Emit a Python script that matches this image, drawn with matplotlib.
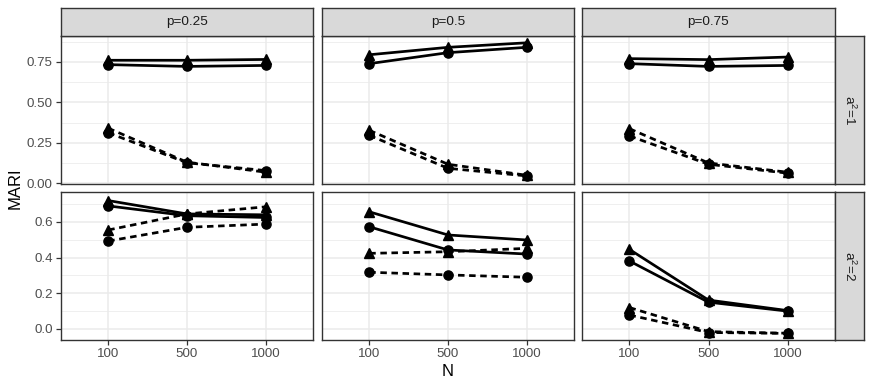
import matplotlib
matplotlib.use("Agg")
import matplotlib.pyplot as plt
import numpy as np

plt.rcParams['font.family'] = ['Liberation Sans', 'DejaVu Sans']

N_labels = ["100", "500", "1000"]
p_labels = ["p=0.25", "p=0.5", "p=0.75"]
a_labels = [r"$\mathregular{a^2}$=1", r"$\mathregular{a^2}$=2"]

# values per p-panel (rows: p=0.25, p=0.5, p=0.75; cols: N=100,500,1000)
solid_tri_a1 = [[0.760, 0.760, 0.765], [0.794, 0.840, 0.868], [0.770, 0.764, 0.780]]
solid_circ_a1 = [[0.733, 0.722, 0.728], [0.739, 0.807, 0.840], [0.739, 0.722, 0.728]]
dash_tri_a1 = [[0.340, 0.130, 0.068], [0.327, 0.117, 0.049], [0.337, 0.125, 0.068]]
dash_circ_a1 = [[0.312, 0.126, 0.078], [0.296, 0.092, 0.045], [0.292, 0.117, 0.062]]

solid_tri_a2 = [[0.720, 0.645, 0.640], [0.657, 0.527, 0.499], [0.446, 0.162, 0.103]]
solid_circ_a2 = [[0.690, 0.635, 0.625], [0.573, 0.443, 0.420], [0.381, 0.150, 0.100]]
dash_tri_a2 = [[0.555, 0.645, 0.685], [0.424, 0.433, 0.452], [0.120, -0.015, -0.024]]
dash_circ_a2 = [[0.493, 0.570, 0.588], [0.318, 0.303, 0.290], [0.078, -0.020, -0.025]]

rows = [
    dict(st=solid_tri_a1, sc=solid_circ_a1, dt=dash_tri_a1, dc=dash_circ_a1,
         ylim=(-0.005, 0.91), major=[0, 0.25, 0.5, 0.75],
         labels=["0.00", "0.25", "0.50", "0.75"], minor=[0.125, 0.375, 0.625, 0.875]),
    dict(st=solid_tri_a2, sc=solid_circ_a2, dt=dash_tri_a2, dc=dash_circ_a2,
         ylim=(-0.062, 0.768), major=[0, 0.2, 0.4, 0.6],
         labels=["0.0", "0.2", "0.4", "0.6"], minor=[0.1, 0.3, 0.5, 0.7]),
]

W, H = 872, 388
fig = plt.figure(figsize=(W / 100, H / 100), dpi=100)

col_x = [(61, 313), (322, 574), (582, 835)]
row_y = [(36, 184), (192, 340)]
strip_top = (8, 36)
strip_right = (835, 864)

def fax(x0, x1, y0, y1):
    return fig.add_axes([x0 / W, 1 - y1 / H, (x1 - x0) / W, (y1 - y0) / H])

edge = '#333333'
grid_c = '#EBEBEB'
lw = 1.95
dash = (2.4, 1.7)

for ri, r in enumerate(rows):
    for ci in range(3):
        x0, x1 = col_x[ci]
        y0, y1 = row_y[ri]
        ax = fax(x0, x1, y0, y1)
        ax.set_facecolor('white')
        xs = np.arange(1, 4)
        ax.set_xlim(0.4, 3.6)
        ax.set_ylim(*r['ylim'])
        for v in r['minor']:
            ax.axhline(v, color=grid_c, lw=0.55, zorder=0)
        for v in r['major']:
            ax.axhline(v, color=grid_c, lw=1.1, zorder=0)
        for xv in xs:
            ax.axvline(xv, color=grid_c, lw=1.1, zorder=0)
        ax.plot(xs, r['st'][ci], color='black', lw=lw, zorder=2, solid_capstyle='butt')
        ax.plot(xs, r['sc'][ci], color='black', lw=lw, zorder=2, solid_capstyle='butt')
        ax.plot(xs, r['dt'][ci], color='black', lw=lw, ls=(0, dash), zorder=2, dash_capstyle='butt')
        ax.plot(xs, r['dc'][ci], color='black', lw=lw, ls=(0, dash), zorder=2, dash_capstyle='butt')
        ax.plot(xs, r['st'][ci], ls='none', marker='^', ms=7.5, color='black', zorder=3)
        ax.plot(xs, r['sc'][ci], ls='none', marker='o', ms=6.6, color='black', zorder=3)
        ax.plot(xs, r['dt'][ci], ls='none', marker='^', ms=7.5, color='black', zorder=3)
        ax.plot(xs, r['dc'][ci], ls='none', marker='o', ms=6.6, color='black', zorder=3)
        for s in ax.spines.values():
            s.set_color(edge)
            s.set_linewidth(1.0)
        ax.set_xticks(xs)
        ax.set_yticks(r['major'])
        ax.tick_params(axis='both', colors=edge, length=3.5, width=0.9,
                       labelcolor='#4D4D4D', labelsize=9.6, pad=2.5)
        if ri == 1:
            ax.set_xticklabels(N_labels)
        else:
            ax.set_xticklabels([])
            ax.tick_params(axis='x', length=0)
        if ci == 0:
            ax.set_yticklabels(r['labels'])
        else:
            ax.set_yticklabels([])
            ax.tick_params(axis='y', length=0)

# top strips
for ci in range(3):
    x0, x1 = col_x[ci]
    sax = fax(x0, x1, strip_top[0], strip_top[1])
    sax.set_facecolor('#D9D9D9')
    sax.set_xticks([]); sax.set_yticks([])
    for s in sax.spines.values():
        s.set_color(edge); s.set_linewidth(1.0)
    sax.text(0.5, 0.5, p_labels[ci], ha='center', va='center', fontsize=9.7,
             color='#1A1A1A', transform=sax.transAxes)

# right strips
for ri in range(2):
    y0, y1 = row_y[ri]
    sax = fax(strip_right[0], strip_right[1], y0, y1)
    sax.set_facecolor('#D9D9D9')
    sax.set_xticks([]); sax.set_yticks([])
    for s in sax.spines.values():
        s.set_color(edge); s.set_linewidth(1.0)
    sax.text(0.5, 0.5, a_labels[ri], ha='center', va='center', fontsize=9.7,
             color='#1A1A1A', rotation=-90, transform=sax.transAxes)

fig.text(15 / W, 1 - 188 / H, "MARI", rotation=90, ha='center', va='center', fontsize=12)
fig.text(448 / W, 1 - 372 / H, "N", ha='center', va='center', fontsize=12)

fig.savefig("out.png", dpi=100)
